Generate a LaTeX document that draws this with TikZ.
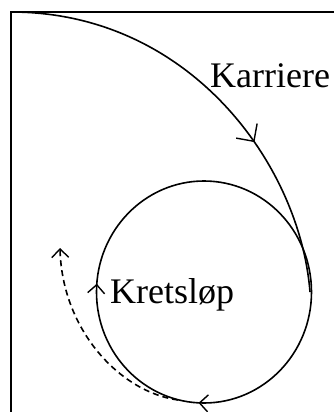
\documentclass[tikz,border=0pt]{standalone}
\usepackage{fontspec}
\setmainfont{Liberation Serif}
\usetikzlibrary{arrows.meta,decorations.markings}
\begin{document}
\begin{tikzpicture}[x=1pt,y=-1pt,
  line/.style={line width=1.6pt},
  bigbarb/.tip={Straight Barb[angle=90:18pt,line width=1.4pt]},
  smallbarb/.tip={Straight Barb[angle=90:12pt,line width=1.4pt]},
  lbl/.style={font=\fontsize{36}{40}\selectfont,inner sep=0pt,anchor=base west}]
\useasboundingbox (0,0) rectangle (334,412);
\coordinate (tl) at (11,12);
\coordinate (tr) at (334,12);
\coordinate (bl) at (11,412);
\draw[line width=2.2pt] (tr) -- (tl) -- (bl);
% career trajectory
\coordinate (kend) at (310,292);
\draw[line,postaction={decorate,decoration={markings,
   mark=at position 0.64 with {\arrow{bigbarb}}}}]
  (tl) .. controls (190,12) and (300,165) .. (kend);
% cycle
\coordinate (c) at (204,292);
\draw[line,postaction={decorate,decoration={markings,
   mark=at position 0.258 with {\arrow{smallbarb}},
   mark=at position 0.512 with {\arrow{smallbarb}}}}]
  (c) ++(0:107.5 and 111) arc[start angle=0,end angle=360,x radius=107.5,y radius=111];
% dashed escape
\coordinate (ds) at (178,400);
\coordinate (de) at (60,248);
\draw[line,dash pattern=on 6pt off 4pt,-{smallbarb}]
  (ds) .. controls (120,392) and (62,330) .. (de);
\node[lbl] (karriere) at (210,87) {Karriere};
\node[lbl] (kretslop) at (110,303) {Kretsløp};
\end{tikzpicture}
\end{document}
